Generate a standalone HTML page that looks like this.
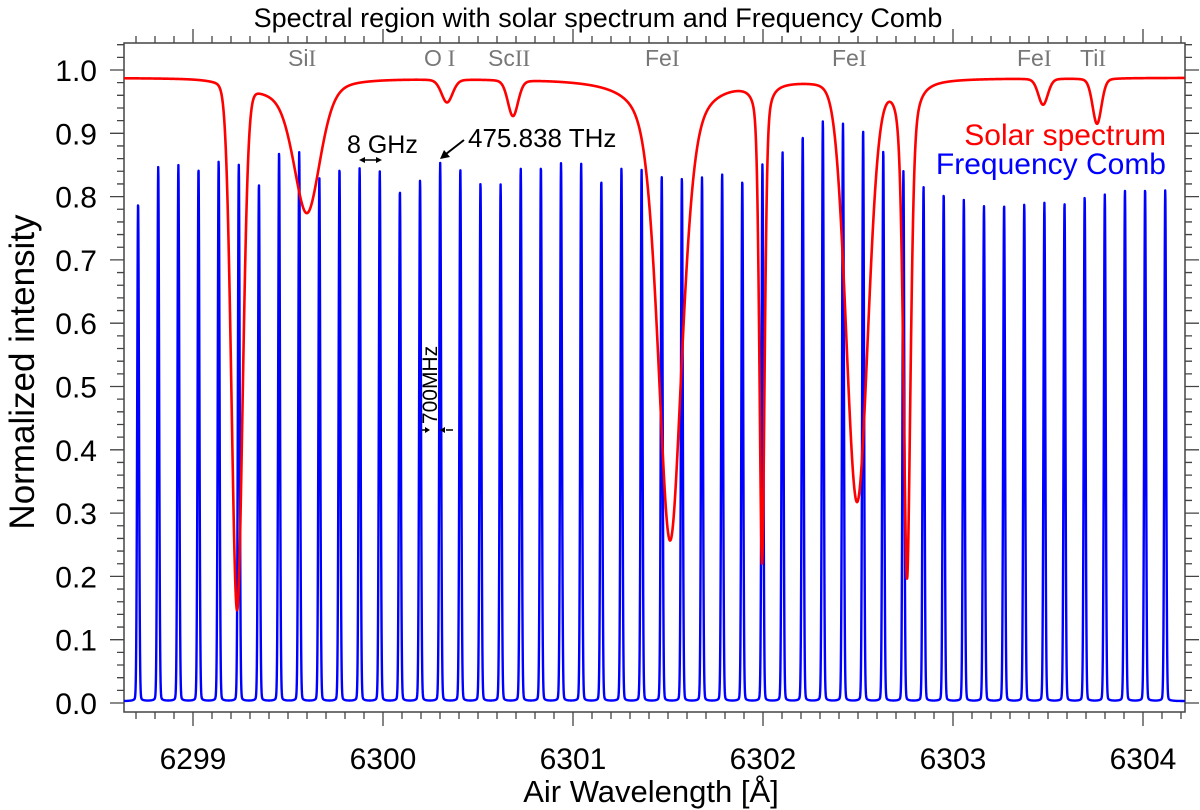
<!DOCTYPE html>
<html><head><meta charset="utf-8"><style>
html,body{margin:0;padding:0;background:#fff;}
svg{display:block;font-family:"Liberation Sans",sans-serif;}
.ser{font-family:"Liberation Serif",serif;}
</style></head><body>
<svg id="chart" width="1200" height="810" viewBox="0 0 1200 810" xmlns="http://www.w3.org/2000/svg">
<text x="598" y="27" font-size="27" text-anchor="middle" fill="#000">Spectral region with solar spectrum and Frequency Comb</text>
<g id="axes"></g>
<g id="series"></g>
<text transform="translate(34,372) rotate(-90)" font-size="35" text-anchor="middle">Normalized intensity</text>
<text x="651" y="802" font-size="31" text-anchor="middle">Air Wavelength [Å]</text>
<g fill="#777" font-size="23">
<text x="288" y="66">Si<tspan class="ser">I</tspan></text>
<text x="424" y="66">O<tspan class="ser"> I</tspan></text>
<text x="488" y="66">Sc<tspan class="ser">II</tspan></text>
<text x="645" y="66">Fe<tspan class="ser">I</tspan></text>
<text x="832" y="66">Fe<tspan class="ser">I</tspan></text>
<text x="1017" y="66">Fe<tspan class="ser">I</tspan></text>
<text x="1080" y="66">Ti<tspan class="ser">I</tspan></text>
</g>
<g font-size="30" text-anchor="end">
<text x="1166" y="145" fill="#f00">Solar spectrum</text>
<text x="1166" y="174" fill="#00f">Frequency Comb</text>
</g>
<g fill="#000" stroke="#000">
<text x="347" y="153" font-size="25" stroke="none">8 GHz</text>
<g stroke-width="1.5">
<line x1="361" y1="160" x2="380" y2="160"/>
<polygon points="359,160 365,157 365,163" stroke="none"/><polygon points="382,160 376,157 376,163" stroke="none"/>
</g>
<text x="468" y="147" font-size="26" stroke="none">475.838 THz</text>
<g stroke-width="2">
<line x1="464" y1="140" x2="446" y2="154"/>
<polygon points="440,159 444,150 450,157" stroke="none"/>
</g>
<text transform="translate(437,385) rotate(-90)" font-size="21" text-anchor="middle" stroke="none">700MHz</text>
<g stroke-width="1.5">
<line x1="422" y1="430" x2="428" y2="430"/><polygon points="430,430 425,427 425,433" stroke="none"/>
<line x1="446" y1="430" x2="453" y2="430"/><polygon points="440,430 445,427 445,433" stroke="none"/>
</g>
</g>
</svg>
<script>
// ---- data ----
const combStart = 6298.711;      // wavelength of first comb mode (Å)
const combStep = 0.106;          // mode spacing (Å), 8 GHz
const combHeights = [0.79,0.847,0.85,0.845,0.856,0.85,0.82,0.87,0.87,0.83,0.845,0.845,0.84,0.81,0.826,0.853,0.844,
0.822,0.819,0.845,0.848,0.853,0.852,0.826,0.845,0.842,0.833,0.83,0.83,0.836,0.826,0.851,0.87,0.897,0.92,
0.915,0.905,0.873,0.84,0.816,0.805,0.795,0.785,0.788,0.788,0.79,0.79,0.80,0.803,0.81,0.813,0.81];
const combBaseline = 0.003;
const solarContinuum = 0.988;
const lineCenters = [6299.232,6299.42,6299.600,6300.337,6300.684,6301.511,6301.995,6302.495,6302.758,6303.474,6303.758];
const lineDepths  = [0.85,0.015,0.21,0.037,0.058,0.74,0.775,0.677,0.80,0.042,0.073];
const lineHalfWidths = [0.034,0.18,0.083,0.035,0.032,0.075,0.016,0.067,0.022,0.03,0.028];
const lineLorentz = [0.05,0,0.4,0.2,0.2,0.5,0.4,0.1,0.5,0.2,0.2];
const xTickLabels = ["6299","6300","6301","6302","6303","6304"];
const yTickLabels = ["0.0","0.1","0.2","0.3","0.4","0.5","0.6","0.7","0.8","0.9","1.0"];

// ---- axes ----
const L=124,R=1185,T=43,B=712;
const X0=6299, PX=190, XORIG=193;
const xs = w => XORIG + (w - X0) * PX;
const ys = v => 703 - v * 633;
const wMin = X0 + (L - XORIG)/PX, wMax = X0 + (R - XORIG)/PX;
const NS="http://www.w3.org/2000/svg";
const axes=document.getElementById('axes'), series=document.getElementById('series');
function mk(tag, attrs, parent){const e=document.createElementNS(NS,tag);for(const k in attrs)e.setAttribute(k,attrs[k]);parent.appendChild(e);return e;}

const frame=mk('rect',{x:L,y:T,width:R-L,height:B-T,fill:'none',stroke:'#444','stroke-width':1.5},axes);


let tk='';
for(let i=Math.ceil(wMin*10);i<=Math.floor(wMax*10);i++){
  const x=xs(i/10), maj=(i%10===0), len=maj?14:7;
  tk+=`M${x},${B}v${len}M${x},${T}v${-len}`;
}
for(let i=0;i<=52;i++){
  const v=i*0.02, y=ys(v); if(y<T) break;
  const maj=(i%5===0), len=maj?14:7;
  tk+=`M${L},${y}h${-len}M${R},${y}h${len}`;
}
const ticks=mk('path',{d:tk,stroke:'#444','stroke-width':1.3,fill:'none'},axes);


xTickLabels.forEach((s,i)=>{
  const t=mk('text',{x:xs(+s),y:769,'font-size':30,'text-anchor':'middle'},axes);
  t.textContent=s;
  
  
});
yTickLabels.forEach((s)=>{
  const t=mk('text',{x:97,y:ys(+s)+11,'font-size':30,'text-anchor':'end'},axes);
  t.textContent=s;
  
  
});

// ---- series ----
const step=0.2/PX;
let dC='';
for(let w=wMin;w<=wMax;w+=step){
  let v=combBaseline;
  const k=Math.round((w-combStart)/combStep);
  for(let j=k-1;j<=k+1;j++){
    if(j<0||j>=combHeights.length) continue;
    const c=combStart+j*combStep, u=(w-c)/0.0055;
    v+= (combHeights[j]-combBaseline)*(0.95*Math.exp(-Math.LN2*u*u)+0.05/(1+u*u));
  }
  dC+=(dC?'L':'M')+xs(w).toFixed(2)+','+ys(v).toFixed(2);
}
const comb=mk('path',{d:dC,fill:'none',stroke:'#00f','stroke-width':2.4,'stroke-linejoin':'round'},series);



let dS='';
for(let w=wMin;w<=wMax;w+=step){
  let f=1;
  for(let i=0;i<lineCenters.length;i++){
    const u=(w-lineCenters[i])/lineHalfWidths[i];
    const p=lineLorentz[i]/(1+u*u)+(1-lineLorentz[i])*Math.exp(-Math.LN2*u*u);
    f*=1-lineDepths[i]*p;
  }
  const v=solarContinuum*f;
  dS+=(dS?'L':'M')+xs(w).toFixed(2)+','+ys(v).toFixed(2);
}
const solar=mk('path',{d:dS,fill:'none',stroke:'#f00','stroke-width':2.6,'stroke-linejoin':'round'},series);


</script>
</body></html>
